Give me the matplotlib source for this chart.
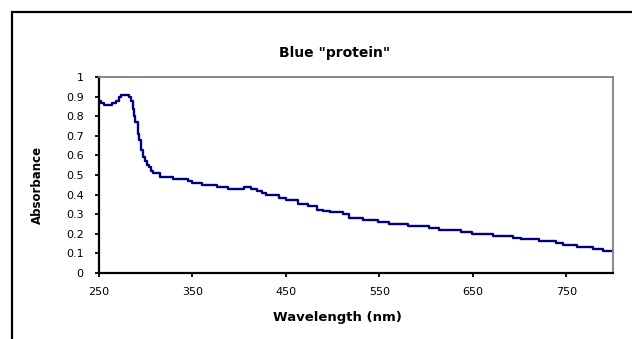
import matplotlib
matplotlib.use("Agg")
import matplotlib.pyplot as plt
from matplotlib.lines import Line2D

# Data: step spectrum (wavelength where each level starts, absorbance level)
wavelength = [250, 252, 255, 264, 268, 271, 274, 282, 284, 286, 287, 289, 292,
              293, 295, 297, 299, 301, 303, 306, 308, 315, 329, 345, 349, 360,
              376, 388, 405, 413, 419, 424, 429, 443, 450, 463, 474, 483, 490,
              497, 511, 517, 532, 549, 560, 581, 603, 614, 637, 649, 672, 693,
              702, 721, 739, 746, 762, 779, 789, 800]
absorbance = [0.88, 0.87, 0.86, 0.87, 0.88, 0.90, 0.91, 0.90, 0.88, 0.84, 0.80,
              0.77, 0.71, 0.68, 0.63, 0.59, 0.57, 0.55, 0.54, 0.52, 0.51, 0.49,
              0.48, 0.47, 0.46, 0.45, 0.44, 0.43, 0.44, 0.43, 0.42, 0.41, 0.40,
              0.38, 0.37, 0.35, 0.34, 0.323, 0.315, 0.31, 0.30, 0.28, 0.27,
              0.26, 0.25, 0.24, 0.23, 0.22, 0.21, 0.20, 0.19, 0.18, 0.17, 0.16,
              0.15, 0.14, 0.13, 0.12, 0.11, 0.11]
x_ticks = [250, 350, 450, 550, 650, 750]
y_ticks = [0, 0.1, 0.2, 0.3, 0.4, 0.5, 0.6, 0.7, 0.8, 0.9, 1]
y_tick_labels = ["0", "0.1", "0.2", "0.3", "0.4", "0.5", "0.6", "0.7", "0.8", "0.9", "1"]
title = 'Blue "protein"'
x_label = "Wavelength (nm)"
y_label = "Absorbance"

W, H = 632, 339
fig = plt.figure(figsize=(W / 100, H / 100), dpi=100)
fig.patch.set_facecolor("white")

# outer chart-area frame (left and top visible)
fx = 11.5 / W
fy = 1 - 12 / H
fig.add_artist(Line2D([fx, fx, 1.01], [-0.01, fy, fy], transform=fig.transFigure,
                      color="black", lw=1.6, solid_joinstyle="miter"))

left, right = 99 / W, 613 / W
bottom, top = 1 - 272.7 / H, 1 - 77.3 / H
ax = fig.add_axes([left, bottom, right - left, top - bottom])

ax.plot(wavelength, absorbance, drawstyle="steps-post", color="#000080", lw=1.7)

ax.set_xlim(250, 800)
ax.set_ylim(0, 1)
ax.set_xticks(x_ticks)
ax.set_xticklabels([str(v) for v in x_ticks])
ax.set_yticks(y_ticks)
ax.set_yticklabels(y_tick_labels)

for s in ["top", "right"]:
    ax.spines[s].set_color("#808080")
    ax.spines[s].set_linewidth(1.3)
for s in ["left", "bottom"]:
    ax.spines[s].set_color("black")
    ax.spines[s].set_linewidth(1.6)

ax.tick_params(axis="y", direction="out", length=3, width=1.3, pad=8,
               labelsize=8, labelcolor="black")
ax.tick_params(axis="x", direction="out", length=3, width=1.3, pad=7,
               labelsize=8, labelcolor="black")
for lab in ax.get_xticklabels() + ax.get_yticklabels():
    lab.set_family("DejaVu Sans")

fig.text(335 / W, 1 - 52.7 / H, title, ha="center", va="center",
         fontsize=10, fontweight="bold", family="DejaVu Sans")
fig.text(337 / W, 1 - 317.7 / H, x_label, ha="center", va="center",
         fontsize=9.5, fontweight="bold", family="DejaVu Sans")
fig.text(37.5 / W, 1 - 184.7 / H, y_label, ha="center", va="center",
         rotation=90, fontsize=8.5, fontweight="bold", family="DejaVu Sans")

fig.savefig("out.png", dpi=100, facecolor="white")
